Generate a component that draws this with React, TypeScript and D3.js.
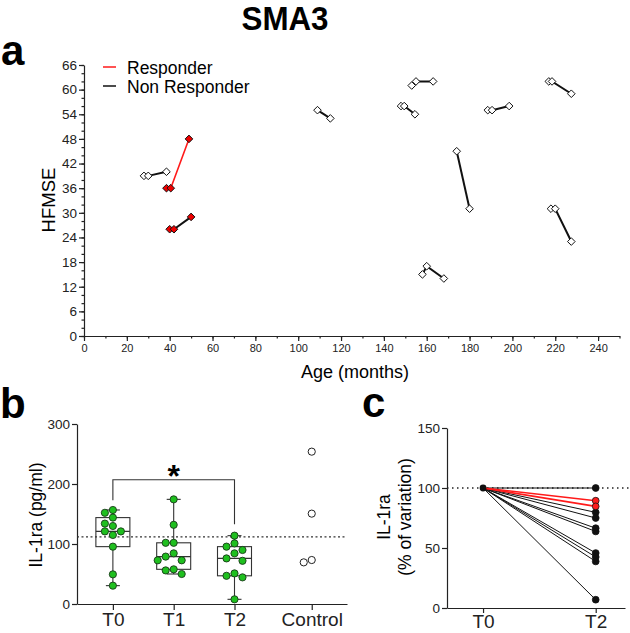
import React, { useEffect, useRef } from 'react';
import * as d3 from 'd3';

const FONT = '"Liberation Sans", Arial, Helvetica, sans-serif';

// ---- panel a: HFMSE vs age, one row per patient, visits in order
const patientAges: number[][] = [
  [28, 30, 38.5],
  [38.5, 40.5, 49],
  [40, 42, 50],
  [109, 115],
  [148, 149.5, 154.5],
  [153, 155, 163],
  [174, 180],
  [158, 160, 168],
  [188.5, 190.5, 198.5],
  [217, 218.5, 227.5],
  [218, 220, 227.5],
];
const patientHfmse: number[][] = [
  [39, 39, 40],
  [36, 36, 48],
  [26, 26, 29],
  [55, 53],
  [56, 56, 54],
  [61, 62, 62],
  [45, 31],
  [15, 17, 14],
  [55, 55, 56],
  [62, 62, 59],
  [31, 31, 23],
];
const responderLine = [false, true, false, false, false, false, false, false, false, false, false];
const redMarker = [false, true, true, false, false, false, false, false, false, false, false];
const legendLabels = ['Responder', 'Non Responder'];
const ageTicks = d3.range(0, 241, 20);
const hfmseTicks = d3.range(0, 67, 6);

// ---- panel b: IL-1ra (pg/ml) per timepoint + controls
const timepoints = ['T0', 'T1', 'T2'];
const il1raT0 = [156.7, 152, 144, 134, 130, 121, 121, 115, 95.6, 49.4, 30.6];
const il1raT1 = [174.4, 132, 102, 102, 84.4, 79, 72.8, 72.8, 57.8, 56, 50];
const il1raT2 = [113.9, 101, 95.6, 90, 84.4, 76, 72, 51, 47, 44.4, 7.8];
const controlValues = [253.9, 150.6, 73.3, 69.4];
const il1raTicks = [0, 100, 200, 300];
const sigBracket = { from: 'T0', to: 'T2', top: 207, left: 173, right: 133, label: '*' };

// ---- panel c: % variation T0 -> T2
const variationGroups = ['T0', 'T2'];
const variationT2 = [100, 89.4, 84.7, 79.7, 75, 66.5, 63.8, 45.8, 42.5, 38.8, 6.9];
const variationResponder = [false, true, true, false, false, false, false, false, false, false, false];
const variationTicks = [0, 50, 100, 150];

// quartiles the GraphPad way: position p*(n+1)
function quart(vals: number[], p: number) {
  const s = vals.slice().sort((a, b) => a - b);
  const pos = p * (s.length + 1) - 1;
  const lo = Math.max(0, Math.min(s.length - 1, Math.floor(pos)));
  const hi = Math.min(s.length - 1, lo + 1);
  return s[lo] + (s[hi] - s[lo]) * (pos - Math.floor(pos));
}

// simple column dodge so dots don't overlap
function dodge(vals: number[], y: (v: number) => number, r: number) {
  const order = d3.range(vals.length).sort((a, b) => vals[b] - vals[a]);
  const placed: { x: number; y: number }[] = [];
  const off: number[] = new Array(vals.length).fill(0);
  const step = 2 * r + 1;
  for (const i of order) {
    const py = y(vals[i]);
    for (let k = 0; k < 20; k++) {
      const dx = k === 0 ? 0 : Math.ceil(k / 2) * (k % 2 ? -1 : 1) * step;
      const hit = placed.some((p) => Math.hypot(p.x - dx, p.y - py) < 2 * r + 0.5);
      if (!hit) {
        off[i] = dx;
        placed.push({ x: dx, y: py });
        break;
      }
    }
  }
  return off;
}

export default function App() {
  const ref = useRef<SVGSVGElement>(null);

  useEffect(() => {
    const svg = d3.select(ref.current);
    svg.selectAll('*').remove();
    const ink = '#222';

    // title and panel letters
    svg.append('text').attr('x', 285).attr('y', 30).attr('text-anchor', 'middle')
      .attr('font-size', 33).attr('font-weight', 700).attr('textLength', 87)
      .attr('lengthAdjust', 'spacingAndGlyphs').text('SMA3');
    const letter = (t: string, x: number, y: number) =>
      svg.append('text').attr('x', x).attr('y', y).attr('font-size', 42)
        .attr('font-weight', 700).text(t);
    letter('a', 1, 65);
    letter('b', 0, 418);
    letter('c', 362, 417);

    // ================= panel a =================
    const xA = d3.scaleLinear().domain([0, 250]).range([84, 619.5]);
    const yA = d3.scaleLinear().domain([0, 66]).range([336, 65]);
    const gA = svg.append('g');

    const yAxA = gA.append('g').attr('transform', `translate(${xA(0)},0)`)
      .call(d3.axisLeft(yA).tickValues(hfmseTicks).tickSize(5).tickPadding(2).tickSizeOuter(0));
    yAxA.selectAll('text').attr('font-size', 13.5).attr('font-family', FONT).attr('fill', ink);
    gA.append('g').attr('transform', `translate(${xA(0)},0)`)
      .call(d3.axisLeft(yA).tickValues(d3.range(0, 67, 2)).tickSize(2.5).tickFormat(() => ''))
      .select('.domain').remove();

    const xAxA = gA.append('g').attr('transform', `translate(0,${yA(0)})`)
      .call(d3.axisBottom(xA).tickValues(ageTicks).tickSize(5).tickPadding(3).tickSizeOuter(0));
    xAxA.selectAll('text').attr('font-size', 11).attr('font-family', FONT).attr('fill', ink);
    gA.append('g').attr('transform', `translate(0,${yA(0)})`)
      .call(d3.axisBottom(xA).tickValues(d3.range(0, 251, 10)).tickSize(2.5).tickFormat(() => ''))
      .select('.domain').remove();
    gA.selectAll('.domain, .tick line').attr('stroke', ink).attr('stroke-width', 1.2);

    gA.append('text').attr('transform', 'translate(48,200) rotate(-90)')
      .attr('text-anchor', 'middle').attr('dominant-baseline', 'central')
      .attr('font-size', 18.5).text('HFMSE');
    gA.append('text').attr('x', 355).attr('y', 378).attr('text-anchor', 'middle')
      .attr('font-size', 18).text('Age (months)');

    // legend
    legendLabels.forEach((lab, i) => {
      const ly = 67 + i * 19;
      gA.append('line').attr('x1', 103).attr('x2', 116).attr('y1', ly).attr('y2', ly)
        .attr('stroke', i === 0 ? '#ff1a1a' : '#111').attr('stroke-width', 1.5);
      gA.append('text').attr('x', 127).attr('y', ly + 6.5).attr('font-size', 17.5).text(lab);
    });

    const lineA = d3.line<[number, number]>().x((d) => xA(d[0])).y((d) => yA(d[1]));
    const diamond = (cx: number, cy: number, s: number) =>
      `M${cx},${cy - s}L${cx + s},${cy}L${cx},${cy + s}L${cx - s},${cy}Z`;
    patientAges.forEach((ages, p) => {
      const pts = ages.map((a, j) => [a, patientHfmse[p][j]] as [number, number]);
      gA.append('path').attr('d', lineA(pts)).attr('fill', 'none')
        .attr('stroke', responderLine[p] ? '#ff1a1a' : '#111')
        .attr('stroke-width', responderLine[p] ? 1.6 : 2);
      gA.selectAll(null).data(pts).join('path')
        .attr('d', (d) => diamond(xA(d[0]), yA(d[1]), 3.8))
        .attr('fill', redMarker[p] ? '#ee0000' : '#fff')
        .attr('stroke', '#111').attr('stroke-width', 1);
    });

    // ================= panel b =================
    const catsB = [...timepoints, 'Control'];
    const slotB = (c: string) => catsB.indexOf(c) + (c === 'Control' ? 0.27 : 0);
    const xB = d3.scaleLinear().domain([-0.59, 3.85]).range([77, 347]);
    const yB = d3.scaleLinear().domain([0, 300]).range([604, 424]);
    const gB = svg.append('g');

    const yAxB = gB.append('g').attr('transform', `translate(${xB(-0.59)},0)`)
      .call(d3.axisLeft(yB).tickValues(il1raTicks).tickSize(5).tickPadding(2).tickSizeOuter(0));
    yAxB.selectAll('text').attr('font-size', 13.5).attr('font-family', FONT).attr('fill', ink);
    const xAxB = gB.append('g').attr('transform', `translate(0,${yB(0)})`)
      .call(d3.axisBottom(xB).tickValues(catsB.map(slotB))
        .tickFormat((_, i) => catsB[i]).tickSize(6).tickPadding(3).tickSizeOuter(0));
    xAxB.selectAll('text').attr('font-size', 19).attr('font-family', FONT).attr('fill', ink);
    gB.selectAll('.domain, .tick line').attr('stroke', ink).attr('stroke-width', 1.2);

    gB.append('text').attr('transform', 'translate(36,515) rotate(-90)')
      .attr('text-anchor', 'middle').attr('dominant-baseline', 'central')
      .attr('font-size', 17.5).text('IL-1ra (pg/ml)');

    // control median reference line
    const ctrlMed = d3.median(controlValues) as number;
    gB.append('line').attr('x1', xB(-0.59)).attr('x2', xB(3.85))
      .attr('y1', yB(ctrlMed)).attr('y2', yB(ctrlMed))
      .attr('stroke', '#333').attr('stroke-width', 1.1).attr('stroke-dasharray', '2,2.5');

    const seriesB = [il1raT0, il1raT1, il1raT2];
    const boxW = 34;
    const capW = 14;
    seriesB.forEach((vals, i) => {
      const cx = xB(slotB(timepoints[i]));
      const q1 = quart(vals, 0.25);
      const med = quart(vals, 0.5);
      const q3 = quart(vals, 0.75);
      const lo = d3.min(vals) as number;
      const hi = d3.max(vals) as number;
      const g = gB.append('g').attr('stroke', '#333').attr('stroke-width', 1.1);
      g.append('line').attr('x1', cx).attr('x2', cx).attr('y1', yB(hi)).attr('y2', yB(q3));
      g.append('line').attr('x1', cx).attr('x2', cx).attr('y1', yB(q1)).attr('y2', yB(lo));
      [lo, hi].forEach((v) => g.append('line').attr('x1', cx - capW / 2).attr('x2', cx + capW / 2)
        .attr('y1', yB(v)).attr('y2', yB(v)));
      g.append('rect').attr('x', cx - boxW / 2).attr('width', boxW)
        .attr('y', yB(q3)).attr('height', yB(q1) - yB(q3)).attr('fill', 'none');
      g.append('line').attr('x1', cx - boxW / 2).attr('x2', cx + boxW / 2)
        .attr('y1', yB(med)).attr('y2', yB(med));
      const offs = dodge(vals, yB, 3.5);
      gB.selectAll(null).data(vals).join('circle')
        .attr('cx', (_, j) => cx + offs[j]).attr('cy', (d) => yB(d)).attr('r', 3.6)
        .attr('fill', '#1fbf1f').attr('stroke', '#1a3a1a').attr('stroke-width', 0.9);
    });
    {
      const cx = xB(slotB('Control'));
      const offs = dodge(controlValues, yB, 3.5);
      gB.selectAll(null).data(controlValues).join('circle')
        .attr('cx', (_, j) => cx + offs[j]).attr('cy', (d) => yB(d)).attr('r', 3.6)
        .attr('fill', '#fff').attr('stroke', '#222').attr('stroke-width', 1);
    }

    // significance bracket
    const bx1 = xB(slotB(sigBracket.from));
    const bx2 = xB(slotB(sigBracket.to));
    gB.append('path')
      .attr('d', `M${bx1},${yB(sigBracket.left)}V${yB(sigBracket.top)}H${bx2}V${yB(sigBracket.right)}`)
      .attr('fill', 'none').attr('stroke', '#333').attr('stroke-width', 1.1);
    gB.append('text').attr('x', (bx1 + bx2) / 2).attr('y', yB(sigBracket.top) + 7)
      .attr('text-anchor', 'middle').attr('font-size', 32).attr('font-weight', 700)
      .text(sigBracket.label);

    // ================= panel c =================
    const xC = d3.scaleLinear().domain([-0.32, 1.26]).range([447, 625]);
    const yC = d3.scaleLinear().domain([0, 150]).range([608, 428]);
    const gC = svg.append('g');

    const yAxC = gC.append('g').attr('transform', `translate(${xC(-0.32)},0)`)
      .call(d3.axisLeft(yC).tickValues(variationTicks).tickSize(5).tickPadding(2).tickSizeOuter(0));
    yAxC.selectAll('text').attr('font-size', 13.5).attr('font-family', FONT).attr('fill', ink);
    const xAxC = gC.append('g').attr('transform', `translate(0,${yC(0)})`)
      .call(d3.axisBottom(xC).tickValues([0, 1]).tickFormat((_, i) => variationGroups[i])
        .tickSize(5).tickPadding(2).tickSizeOuter(0));
    xAxC.selectAll('text').attr('font-size', 19).attr('font-family', FONT).attr('fill', ink);
    gC.selectAll('.domain, .tick line').attr('stroke', ink).attr('stroke-width', 1.2);

    gC.append('text').attr('transform', 'translate(384,517) rotate(-90)')
      .attr('text-anchor', 'middle').attr('dominant-baseline', 'central')
      .attr('font-size', 17.5).text('IL-1ra');
    gC.append('text').attr('transform', 'translate(405,517) rotate(-90)')
      .attr('text-anchor', 'middle').attr('dominant-baseline', 'central')
      .attr('font-size', 17.5).text('(% of variation)');

    gC.append('line').attr('x1', xC(-0.32)).attr('x2', 630)
      .attr('y1', yC(100)).attr('y2', yC(100))
      .attr('stroke', '#222').attr('stroke-width', 1.3).attr('stroke-dasharray', '1.5,3.5');

    const order = d3.range(variationT2.length).sort(
      (a, b) => Number(variationResponder[a]) - Number(variationResponder[b]));
    order.forEach((i) => {
      const red = variationResponder[i];
      gC.append('line').attr('x1', xC(0)).attr('y1', yC(100))
        .attr('x2', xC(1)).attr('y2', yC(variationT2[i]))
        .attr('stroke', red ? '#ff1a1a' : '#111').attr('stroke-width', red ? 1.6 : 1);
    });
    order.forEach((i) => {
      const red = variationResponder[i];
      gC.append('circle').attr('cx', xC(1)).attr('cy', yC(variationT2[i])).attr('r', 3.4)
        .attr('fill', red ? '#ff1a1a' : '#111').attr('stroke', '#111').attr('stroke-width', 0.8);
    });
    gC.append('circle').attr('cx', xC(0)).attr('cy', yC(100)).attr('r', 3.4).attr('fill', '#111');
  }, []);

  return (
    <svg
      ref={ref}
      width={630}
      height={633}
      viewBox="0 0 630 633"
      style={{ position: 'absolute', left: 0, top: 0, background: '#fff', fontFamily: FONT }}
    />
  );
}
